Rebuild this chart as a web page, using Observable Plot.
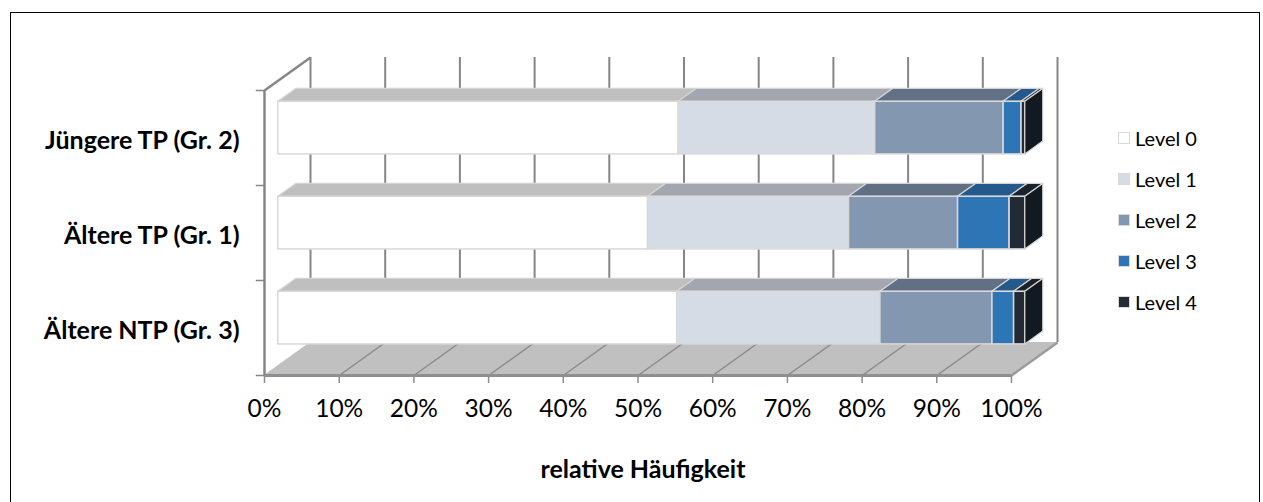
<!DOCTYPE html>
<html>
<head>
<meta charset="utf-8">
<script src="https://cdn.jsdelivr.net/npm/d3@7"></script>
<script src="https://cdn.jsdelivr.net/npm/@observablehq/plot@0.6"></script>
<style>
html,body{margin:0;padding:0;background:#fff;overflow:hidden;}
#wrap{position:relative;width:1263px;height:502px;font-family:Lato,sans-serif;}
#frame{position:absolute;left:10px;top:12px;width:1248px;height:495px;border:1.5px solid #000;border-bottom:none;pointer-events:none;}
#legend{position:absolute;left:1118px;top:0;width:130px;height:400px;}
.item{position:absolute;left:0;height:24px;line-height:24px;display:flex;align-items:center;white-space:nowrap;font-size:20px;color:#000;font-family:Lato,sans-serif;}
.sw{width:10px;height:10px;border:1.5px solid #d9d9d9;margin-right:5px;flex:none;}
svg [aria-label="x-axis tick"], svg [aria-label="x-axis"] line{stroke:#8c8c8c;stroke-width:1.5px;}
</style>
</head>
<body>
<div id="wrap">
  <div id="chart"></div>
  <div id="legend"></div>
  <div id="frame"></div>
</div>
<script>
// ---- data ----
const categories = ["Jüngere TP (Gr. 2)", "Ältere TP (Gr. 1)", "Ältere NTP (Gr. 3)"];
const levels = ["Level 0", "Level 1", "Level 2", "Level 3", "Level 4"];
const level0 = [53.6, 49.5, 53.4];
const level1 = [26.3, 26.9, 27.2];
const level2 = [17.2, 14.6, 15.0];
const level3 = [2.4, 6.9, 2.9];
const level4 = [0.5, 2.1, 1.5];
const xTicks = [0, 10, 20, 30, 40, 50, 60, 70, 80, 90, 100];
const axisTitle = "relative Häufigkeit";
const frontColors = ["#ffffff", "#d6dce5", "#8497b0", "#2e75b6", "#222a35"];
const topColors = ["#bfbfbf", "#a3a6ae", "#627085", "#245a8b", "#1b222b"];
const sideColor = "#121921";

// ---- 3D geometry (depth vector in data units) ----
const DX = 46 / 747 * 100;   // depth shift along x (percent units)
const DY = 33 / 95;          // depth shift along y (band units)
const D0 = 0.30, D1 = 0.69;  // bar depth extent
const H = 0.277;             // half bar height (band units)
const series = [level0, level1, level2, level3, level4];
const nCat = categories.length;

const segs = [];
categories.forEach((c, i) => {
  let cum = 0;
  series.forEach((vals, k) => {
    segs.push({id: c + k, cat: c, k, row: nCat - 1 - i, a: cum, b: cum + vals[i]});
    cum += vals[i];
  });
});
const topPts = segs.flatMap(s => [
  {id: s.id, k: s.k, y: s.row + 0.5 + H + D0 * DY, x1: s.a + D0 * DX, x2: s.b + D0 * DX},
  {id: s.id, k: s.k, y: s.row + 0.5 + H + D1 * DY, x1: s.a + D1 * DX, x2: s.b + D1 * DX}
]);
const lastSegs = segs.filter(s => s.k === levels.length - 1);
const sidePts = lastSegs.flatMap(s => [
  {id: s.id, x: s.b + D0 * DX, y1: s.row + 0.5 - H + D0 * DY, y2: s.row + 0.5 + H + D0 * DY},
  {id: s.id, x: s.b + D1 * DX, y1: s.row + 0.5 - H + D1 * DY, y2: s.row + 0.5 + H + D1 * DY}
]);
const xMax = xTicks[xTicks.length - 1];
const floorPts = [
  {y: 0, x1: 0, x2: xMax},
  {y: DY, x1: DX, x2: xMax + DX}
];
const rows = d3.range(nCat + 1);
const gridCol = "#868686";

const marks = [
  // back wall gridlines
  Plot.ruleX(xTicks, {x: d => d + DX, y1: () => DY, y2: () => nCat + DY, stroke: gridCol, strokeWidth: 2}),
  // floor
  Plot.areaX(floorPts, {y: "y", x1: "x1", x2: "x2", fill: "#c0c0c0"}),
  Plot.link(xTicks.slice(1, -1), {x1: d => d, y1: () => 0, x2: d => d + DX, y2: () => DY, stroke: "#8a8a8a", strokeWidth: 1.5}),
  Plot.link([xMax], {x1: d => d, y1: () => 0, x2: d => d + DX, y2: () => DY, stroke: "#9a9a9a", strokeWidth: 2.5}),
  Plot.ruleY([0], {x1: () => 0, x2: () => xMax, stroke: "#8f8f8f", strokeWidth: 3}),
  // left wall
  Plot.ruleX([0], {y1: () => 0, y2: () => nCat, stroke: gridCol, strokeWidth: 2.5}),
  Plot.link([0], {x1: () => 0, y1: () => nCat, x2: () => DX, y2: () => nCat + DY, stroke: gridCol, strokeWidth: 2.5}),
  Plot.ruleY(rows, {y: d => d, x1: () => -1.1, x2: () => 0, stroke: gridCol, strokeWidth: 1.5}),
  // bar top faces
  ...levels.map((l, k) => Plot.areaX(topPts.filter(p => p.k === k), {
    y: "y", x1: "x1", x2: "x2", z: "id", fill: topColors[k], stroke: "#d4d4d4", strokeWidth: 1.2
  })),
  // bar front faces
  ...levels.map((l, k) => Plot.rect(segs.filter(s => s.k === k), {
    x1: s => s.a + D0 * DX, x2: s => s.b + D0 * DX,
    y1: s => s.row + 0.5 - H + D0 * DY, y2: s => s.row + 0.5 + H + D0 * DY,
    fill: frontColors[k], stroke: "#d9d9d9", strokeWidth: 1.5
  })),
  // bar right side faces
  Plot.areaY(sidePts, {x: "x", y1: "y1", y2: "y2", z: "id", fill: sideColor, stroke: "#d4d4d4", strokeWidth: 1.2}),
  // category labels
  Plot.text(categories, {
    x: () => 0, y: (d, i) => nCat - 1 - i + 0.5, text: d => d,
    textAnchor: "end", dx: -25, dy: 3, fontWeight: "bold", fontSize: 25, fill: "#000"
  }),
  // axis title
  Plot.text([axisTitle], {
    x: () => xMax / 2, y: () => 0, text: d => d, dx: 5, dy: 94.3,
    fontWeight: "bold", fontSize: 25, fill: "#000"
  })
];

const chart = Plot.plot({
  width: 1263,
  height: 502,
  marginLeft: 264,
  marginRight: 252,
  marginTop: 90,
  marginBottom: 127,
  style: {fontFamily: "Lato, sans-serif", fontSize: "24.5px", color: "#000", background: "transparent", overflow: "visible"},
  x: {domain: [0, xMax], ticks: xTicks, tickFormat: d => d + "%", tickSize: 8, tickPadding: 16, label: null},
  y: {domain: [0, nCat], axis: null},
  marks
});
document.getElementById("chart").appendChild(chart);

// legend
const legendCenters = [138, 179, 220, 261, 302];
const leg = document.getElementById("legend");
levels.forEach((l, k) => {
  const it = document.createElement("div");
  it.className = "item";
  it.style.top = (legendCenters[k] - 12) + "px";
  const sw = document.createElement("span");
  sw.className = "sw";
  sw.style.background = frontColors[k];
  const tx = document.createElement("span");
  tx.textContent = l;
  it.appendChild(sw);
  it.appendChild(tx);
  leg.appendChild(it);
});
</script>
</body>
</html>
